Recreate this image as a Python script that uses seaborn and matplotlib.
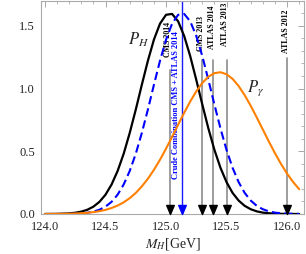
import numpy as np
import pandas as pd
import matplotlib
matplotlib.use("Agg")
import matplotlib.pyplot as plt
import seaborn as sns
from matplotlib.path import Path
from matplotlib.ticker import MultipleLocator

# ---- data ----
mass = [124.00, 124.05, 124.10, 124.15, 124.20, 124.25, 124.30, 124.35, 124.40, 124.45,
        124.50, 124.55, 124.60, 124.65, 124.70, 124.75, 124.80, 124.85, 124.90, 124.95,
        125.00, 125.05, 125.10, 125.15, 125.20, 125.25, 125.30, 125.35, 125.40, 125.45,
        125.50, 125.55, 125.60, 125.65, 125.70, 125.75, 125.80, 125.85, 125.90, 125.95,
        126.00, 126.05, 126.10]
p_h = [0.0002, 0.0005, 0.0012, 0.0025, 0.0051, 0.0100, 0.0189, 0.0339, 0.0586, 0.0970,
       0.154, 0.235, 0.343, 0.480, 0.646, 0.832, 1.030, 1.221, 1.390, 1.517,
       1.588, 1.595, 1.536, 1.419, 1.258, 1.069, 0.872, 0.682, 0.511, 0.368,
       0.254, 0.168, 0.107, 0.065, 0.038, 0.021, 0.011, 0.006, 0.003, 0.0014,
       0.0006, 0.0003, 0.0001]
p_comb = [0.0000, 0.0000, 0.0002, 0.0005, 0.0012, 0.0025, 0.0051, 0.0100, 0.0189, 0.0339,
          0.0586, 0.0970, 0.154, 0.235, 0.343, 0.480, 0.646, 0.832, 1.030, 1.221,
          1.390, 1.517, 1.588, 1.595, 1.536, 1.419, 1.258, 1.069, 0.872, 0.682,
          0.511, 0.368, 0.254, 0.168, 0.107, 0.065, 0.038, 0.021, 0.011, 0.006,
          0.003, 0.0014, 0.0006]
p_gamma = [0.0003, 0.0005, 0.0009, 0.0015, 0.0024, 0.0039, 0.0062, 0.0098, 0.0149, 0.0224,
           0.0330, 0.0476, 0.0672, 0.0931, 0.126, 0.168, 0.220, 0.281, 0.352, 0.432,
           0.521, 0.615, 0.712, 0.807, 0.897, 0.978, 1.045, 1.094, 1.123, 1.130,
           1.114, 1.077, 1.020, 0.947, 0.862, 0.769, 0.673, 0.577, 0.485, 0.399,
           0.322, 0.255, 0.198]

meas_labels = ["CMS 2014", "CMS 2013", "ATLAS 2014", "ATLAS 2013", "ATLAS 2012"]
meas_mass = [125.03, 125.30, 125.39, 125.50, 126.00]
meas_line_top = [1.15, 1.23, 1.23, 1.23, 1.245]
meas_label_y = [1.39, 1.44, 1.49, 1.51, 1.46]

comb_label = "Crude Combination CMS + ATLAS 2014"
comb_mass = 125.13

x_ticks = [124.0, 124.5, 125.0, 125.5, 126.0]
y_ticks = [0.0, 0.5, 1.0, 1.5]

# ---- style ----
sns.set_style("white")
plt.rcParams["font.family"] = ["Liberation Serif", "DejaVu Serif"]
plt.rcParams["mathtext.fontset"] = "stix"

fig = plt.figure(figsize=(3.06, 2.54), dpi=100)
ax = fig.add_axes([41 / 306, 1 - 214 / 254, 263 / 306, 213.5 / 254])

df = pd.DataFrame({"mass": mass, "P_H": p_h, "comb": p_comb, "P_gamma": p_gamma})

# vertical measurement lines with arrowheads
head = Path([(0, 0), (-0.42, 1), (0.42, 1), (0, 0)],
            [Path.MOVETO, Path.LINETO, Path.LINETO, Path.CLOSEPOLY])
for lab, m, top, ly in zip(meas_labels, meas_mass, meas_line_top, meas_label_y):
    ax.plot([m, m], [0, top], color="#8c8c8c", lw=1.2, zorder=1)
    ax.plot([m], [0], marker=head, markersize=13, color="black", zorder=5, clip_on=False)
    ax.text(m - 0.012, ly, lab, rotation=90, ha="center", va="center",
            fontsize=5.7, fontweight="bold", color="black")

ax.plot([comb_mass, comb_mass], [0, 1.7], color="#1a1aff", lw=1.0, zorder=1)
ax.plot([comb_mass], [0], marker=head, markersize=13, color="#0000ff", zorder=5, clip_on=False)
ax.text(comb_mass - 0.05, 0.87, comb_label, rotation=90, ha="center", va="center",
        fontsize=6.0, fontweight="bold", color="#0000ff")

sns.lineplot(data=df, x="mass", y="P_H", ax=ax, color="black", lw=1.6, zorder=3)
sns.lineplot(data=df, x="mass", y="comb", ax=ax, color="#0000ff", lw=1.5,
             linestyle=(0, (4, 2)), zorder=3)
sns.lineplot(data=df, x="mass", y="P_gamma", ax=ax, color="#ff8000", lw=1.5, zorder=3)

ax.text(124.77, 1.39, r"$P_H$", fontsize=12, ha="center", va="center")
ax.text(125.74, 1.0, r"$P_\gamma$", fontsize=12, ha="center", va="center")

ax.set_xlim(123.967, 126.14)
ax.set_ylim(0, 1.702)
ax.set_xticks(x_ticks)
ax.set_yticks(y_ticks)
ax.set_xticklabels([f"{v:.1f}" for v in x_ticks])
ax.set_yticklabels([f"{v:.1f}" for v in y_ticks])
ax.xaxis.set_minor_locator(MultipleLocator(0.1))
ax.yaxis.set_minor_locator(MultipleLocator(0.1))
ax.tick_params(which="both", direction="in", top=True, right=True, color="#999999",
               labelsize=9)
ax.tick_params(axis="x", which="major", pad=5)
ax.tick_params(axis="y", which="major", pad=4.5)
ax.tick_params(which="major", length=4, width=0.6)
ax.tick_params(which="minor", length=2, width=0.5)
for s in ax.spines.values():
    s.set_color("#aaaaaa")
    s.set_linewidth(0.8)
ax.set_xlabel(r"$M_H$[GeV]", fontsize=10, labelpad=2.5)
ax.set_ylabel("")

fig.savefig("out.png", dpi=100)
